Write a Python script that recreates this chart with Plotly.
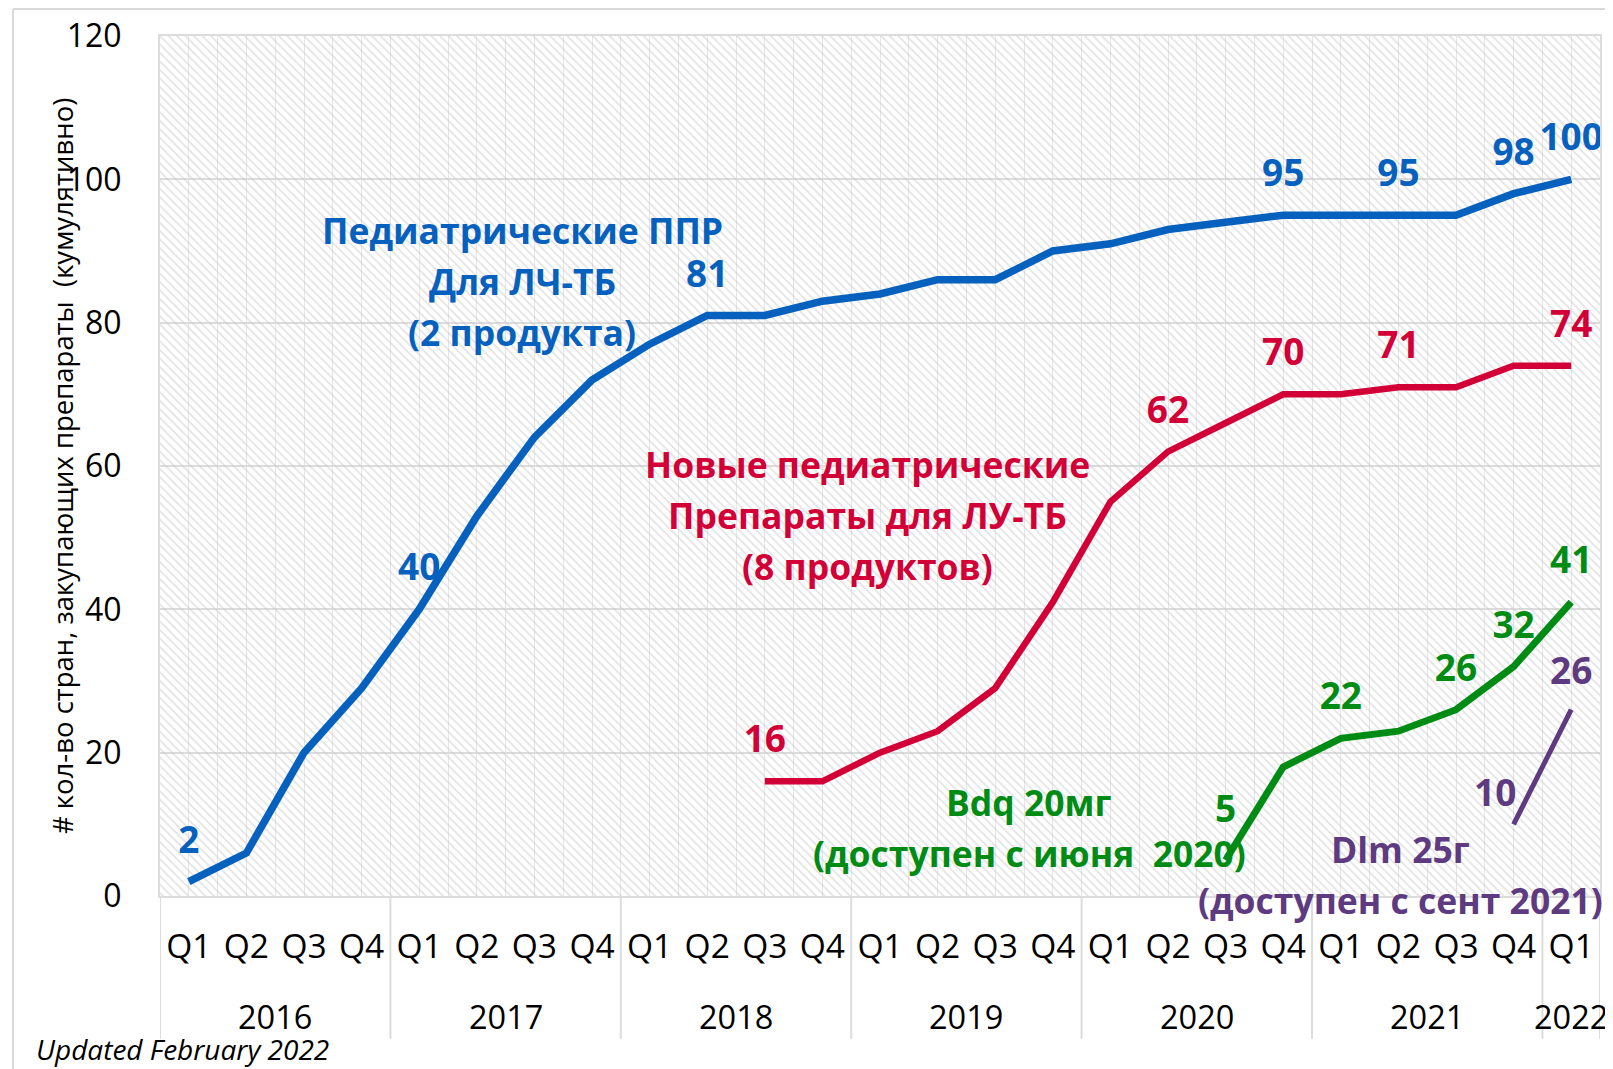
import plotly.graph_objects as go

# ---------------- data ----------------
years = ["2016", "2017", "2018", "2019", "2020", "2021", "2022"]
quarters_per_year = [4, 4, 4, 4, 4, 4, 1]
quarter_labels = ["Q1", "Q2", "Q3", "Q4"] * 6 + ["Q1"]

ppr_values = [2, 6, 20, 29, 40, 53, 64, 72, 77, 81, 81, 83, 84, 86, 86, 90,
              91, 93, 94, 95, 95, 95, 95, 98, 100]
new_ped_values = [None] * 10 + [16, 16, 20, 23, 29, 41, 55, 62, 66, 70, 70, 71, 71, 74, 74]
bdq_values = [None] * 18 + [5, 18, 22, 23, 26, 32, 41]
dlm_values = [None] * 23 + [10, 26]

ppr_label_idx = [0, 4, 9, 19, 21, 23, 24]
new_ped_label_idx = [10, 17, 19, 21, 24]
bdq_label_idx = [18, 20, 22, 23, 24]
dlm_label_idx = [24]          # label on the line's top end
dlm_side_label_idx = [23]     # label placed to the left of the start point

# ---------------- style ----------------
FONT = "'Open Sans', 'Noto Sans', sans-serif"
BLUE = "#0561BD"
RED = "#D20036"
GREEN = "#008C14"
PURPLE = "#5E3A80"
GRID = "#dcdcdc"

n = len(quarter_labels)
x = list(range(n))
X_MIN, X_MAX = -0.5, n - 0.5
Y_MIN, Y_MAX = 0, 120

fig = go.Figure()

# hatched plot-area background
fig.add_trace(go.Scatter(
    x=[X_MIN, X_MAX, X_MAX, X_MIN, X_MIN],
    y=[Y_MIN, Y_MIN, Y_MAX, Y_MAX, Y_MIN],
    mode="lines", line=dict(width=0), fill="toself",
    fillcolor="rgba(0,0,0,0)",
    fillpattern=dict(shape="\\", fgcolor="#c8c8c8", bgcolor="rgba(0,0,0,0)",
                     size=6, solidity=0.3),
    hoverinfo="skip", showlegend=False,
))


def labels(values, idx):
    return ["<b>%d</b>" % v if (i in idx and v is not None) else "" for i, v in enumerate(values)]


def add_series(values, idx, color, width, sizes=None):
    fig.add_trace(go.Scatter(
        x=x, y=values, mode="lines+markers+text",
        line=dict(color=color, width=width),
        marker=dict(size=sizes if sizes else 30, color="rgba(0,0,0,0)",
                    line=dict(width=0, color="rgba(0,0,0,0)")),
        text=labels(values, idx),
        textposition="top center",
        textfont=dict(family=FONT, size=37, color=color),
        cliponaxis=False, showlegend=False,
    ))


add_series(ppr_values, ppr_label_idx, BLUE, 7.5)
add_series(new_ped_values, new_ped_label_idx, RED, 6.5)
bdq_sizes = [44 if i == 18 else 30 for i in range(n)]
add_series(bdq_values, bdq_label_idx, GREEN, 7, sizes=bdq_sizes)
add_series(dlm_values, dlm_label_idx, PURPLE, 5, sizes=24)

annotations = []

for i in dlm_side_label_idx:
    annotations.append(dict(
        x=x[i], y=dlm_values[i], xref="x", yref="y", text="<b>%d</b>" % dlm_values[i],
        showarrow=False, xanchor="right", yanchor="middle", xshift=4, yshift=33,
        font=dict(family=FONT, size=37, color=PURPLE),
    ))

LINE_PX = 51  # vertical distance between note lines, in pixels


def series_note(lines, xpos, ytop, color):
    for k, line in enumerate(lines):
        annotations.append(dict(
            x=xpos, y=ytop, yshift=-k * LINE_PX, xref="x", yref="y",
            text="<b>%s</b>" % line,
            showarrow=False, font=dict(family=FONT, size=35.5, color=color),
            xanchor="center", yanchor="middle",
        ))


series_note(["Педиатрические ППР", "Для ЛЧ-ТБ", "(2 продукта)"], 5.79, 93.0, BLUE)
series_note(["Новые педиатрические", "Препараты для ЛУ-ТБ", "(8 продуктов)"], 11.79, 60.3, RED)
series_note(["Bdq 20мг", "(доступен с июня  2020)"], 14.59, 13.1, GREEN)
series_note(["Dlm 25г", "(доступен с сент 2021)"], 21.04, 6.6, PURPLE)

# year labels and dividers
shapes = []
start = 0
for yr, cnt in zip(years, quarters_per_year):
    center = start + (cnt - 1) / 2
    annotations.append(dict(
        x=center, y=-0.14, xref="x", yref="paper", text=yr, showarrow=False,
        font=dict(family=FONT, size=32.5, color="black"), yanchor="middle",
    ))
    shapes.append(dict(type="line", xref="x", yref="paper",
                       x0=start - 0.5, x1=start - 0.5, y0=0, y1=-0.166,
                       line=dict(color=GRID, width=2)))
    start += cnt
shapes.append(dict(type="line", xref="x", yref="paper",
                   x0=start - 0.5, x1=start - 0.5, y0=0, y1=-0.166,
                   line=dict(color=GRID, width=2)))

# outer chart border (top / left visible)
shapes.append(dict(type="line", xref="paper", yref="paper", x0=-0.1021, x1=1.2,
                   y0=1.0314, y1=1.0314, line=dict(color="#d9d9d9", width=2)))
shapes.append(dict(type="line", xref="paper", yref="paper", x0=-0.1021, x1=-0.1021,
                   y0=1.0314, y1=-0.3, line=dict(color="#d9d9d9", width=2)))

# y axis title
annotations.append(dict(
    x=-0.068, y=0.5, xref="paper", yref="paper",
    text="# кол-во стран, закупающих препараты  (кумулятивно)",
    textangle=-90, showarrow=False, xanchor="center", yanchor="middle",
    font=dict(family=FONT, size=27.5, color="black"),
))

# footnote
annotations.append(dict(
    x=-0.0875, y=-0.1775, xref="paper", yref="paper", text="<i>Updated February 2022</i>",
    showarrow=False, xanchor="left", yanchor="middle",
    font=dict(family=FONT, size=28, color="black"),
))

fig.update_layout(
    width=1605, height=1061,
    margin=dict(l=152, r=13, t=28, b=173, autoexpand=False),
    paper_bgcolor="white", plot_bgcolor="white",
    font=dict(family=FONT, color="black"),
    annotations=annotations, shapes=shapes,
    showlegend=False,
)

fig.update_xaxes(
    range=[X_MIN, X_MAX], tickmode="array", tickvals=x, ticktext=quarter_labels,
    tickfont=dict(family=FONT, size=33.5, color="black"),
    showgrid=True, gridcolor="#e6e6e6", gridwidth=1,
    minor=dict(showgrid=True, tickmode="array", tickvals=[i - 0.5 for i in x],
               gridcolor="#e6e6e6", gridwidth=1),
    showline=True, linecolor=GRID, linewidth=2, mirror=True,
    ticks="", ticklabelstandoff=20, zeroline=False, fixedrange=True,
    automargin=False,
)
fig.update_yaxes(
    range=[Y_MIN, Y_MAX], dtick=20, tick0=0,
    tickfont=dict(family=FONT, size=32, color="black"),
    showgrid=True, gridcolor=GRID, gridwidth=1.5,
    showline=True, linecolor=GRID, linewidth=2, mirror=True,
    ticks="", ticklabelstandoff=30, zeroline=False, fixedrange=True,
    automargin=False,
)

fig.write_html("out.html")
